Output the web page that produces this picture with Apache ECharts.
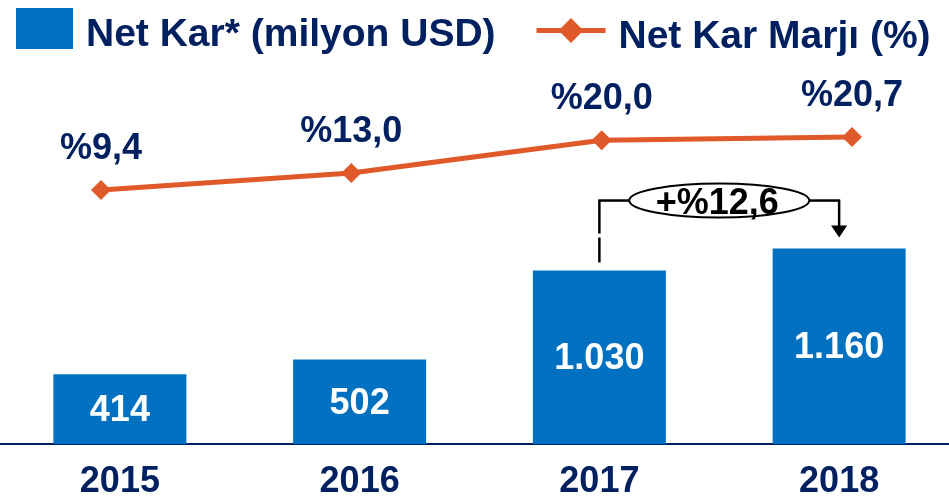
<!DOCTYPE html>
<html><head><meta charset="utf-8">
<script src="https://cdn.jsdelivr.net/npm/echarts@6/dist/echarts.min.js"></script>
<style>html,body{margin:0;padding:0;background:#fff}#c{width:949px;height:498px}</style>
</head><body><div id="c"></div>
<script>
const years = ['2015', '2016', '2017', '2018'];
const netKar = [414, 502, 1030, 1160];
const marj = [9.4, 13.0, 20.0, 20.7];
const barName = 'Net Kar* (milyon USD)';
const lineName = 'Net Kar Marjı (%)';

const NAVY = '#002060', BLUE = '#0070C0', ORANGE = '#E0592A';
const FONT = '"Liberation Sans", Arial, sans-serif';
function thousands(v) { return String(v).replace(/\B(?=(\d{3})+(?!\d))/g, '.'); }
function pct(v) { return '%' + v.toFixed(1).replace('.', ','); }

const chart = echarts.init(document.getElementById('c'), null, { renderer: 'canvas' });
const legendText = {
  fontSize: 39, fontWeight: 'bold', color: NAVY, fontFamily: FONT, padding: [0, 0, 0, 8],
  rich: { t: { fontSize: 39, fontWeight: 'bold', color: NAVY, fontFamily: FONT, padding: [14, 0, 0, 0] } }
};
chart.setOption({
  animation: false,
  textStyle: { fontFamily: FONT },
  legend: [
    { data: [barName], left: 11, top: 3, itemWidth: 57, itemHeight: 41, icon: 'rect',
      formatter: '{t|{name}}', textStyle: legendText },
    { data: [lineName], left: 529, top: 13, itemWidth: 69, itemHeight: 31,
      formatter: '{t|{name}}', textStyle: legendText, lineStyle: { width: 5 } }
  ],
  grid: [
    { left: 0, width: 959, top: 107, bottom: 54, outerBoundsMode: 'none', containLabel: false },
    { left: 101, right: 97, top: 46.5, bottom: 264, outerBoundsMode: 'none', containLabel: false }
  ],
  xAxis: [
    { type: 'category', data: years, gridIndex: 0,
      axisLine: { lineStyle: { color: NAVY, width: 2 } }, axisTick: { show: false },
      axisLabel: { fontSize: 36, fontWeight: 'bold', color: NAVY, margin: 20, fontFamily: FONT } },
    { type: 'category', data: years, gridIndex: 1, boundaryGap: false, show: false }
  ],
  yAxis: [
    { type: 'value', gridIndex: 0, min: 0, max: 2000, show: false, splitLine: { show: false } },
    { type: 'value', gridIndex: 1, min: 0, max: 40, show: false, splitLine: { show: false } }
  ],
  series: [
    { type: 'bar', name: barName, data: netKar, barWidth: 133, itemStyle: { color: BLUE },
      label: { show: true, position: 'inside', offset: [0, 2], formatter: p => thousands(p.value),
        fontSize: 36, fontWeight: 'bold', color: '#fff', fontFamily: FONT } },
    { type: 'line', name: lineName, xAxisIndex: 1, yAxisIndex: 1, data: marj,
      symbol: 'diamond', symbolSize: 20, lineStyle: { color: ORANGE, width: 5 }, itemStyle: { color: ORANGE },
      label: { show: true, position: 'top', distance: 13, formatter: p => pct(p.value),
        fontSize: 36, fontWeight: 'bold', color: NAVY, fontFamily: FONT } }
  ]
});

// growth annotation between 2017 and 2018
const p17 = chart.convertToPixel({ seriesIndex: 0 }, [years[2], netKar[2]]);
const p18 = chart.convertToPixel({ seriesIndex: 0 }, [years[3], netKar[3]]);
const growth = (netKar[3] / netKar[2] - 1) * 100;
const by = p18[1] - 48;
const cx = (p17[0] + p18[0]) / 2;
const rx = 90, ry = 17;
const ls = { stroke: '#000', lineWidth: 2.5 };
chart.setOption({
  graphic: [
    { type: 'line', shape: { x1: p17[0], y1: by, x2: p17[0], y2: by + 33 }, style: ls },
    { type: 'line', shape: { x1: p17[0], y1: by + 37, x2: p17[0], y2: p17[1] - 8 }, style: ls },
    { type: 'line', shape: { x1: p17[0] - 1, y1: by, x2: cx - rx, y2: by }, style: ls },
    { type: 'line', shape: { x1: cx + rx, y1: by, x2: p18[0] + 1, y2: by }, style: ls },
    { type: 'line', shape: { x1: p18[0], y1: by, x2: p18[0], y2: p18[1] - 22 }, style: ls },
    { type: 'polygon', shape: { points: [[p18[0] - 8, p18[1] - 23], [p18[0] + 8, p18[1] - 23], [p18[0], p18[1] - 11]] }, style: { fill: '#000' } },
    { type: 'ellipse', shape: { cx: cx, cy: by, rx: rx, ry: ry }, style: { fill: '#fff', stroke: '#000', lineWidth: 2 } },
    { type: 'text', x: cx - 2, y: by + 4, style: { text: '+' + pct(growth), fontSize: 36, fontWeight: 'bold', fill: '#000', fontFamily: FONT, align: 'center', verticalAlign: 'middle' } }
  ]
});
</script></body></html>
